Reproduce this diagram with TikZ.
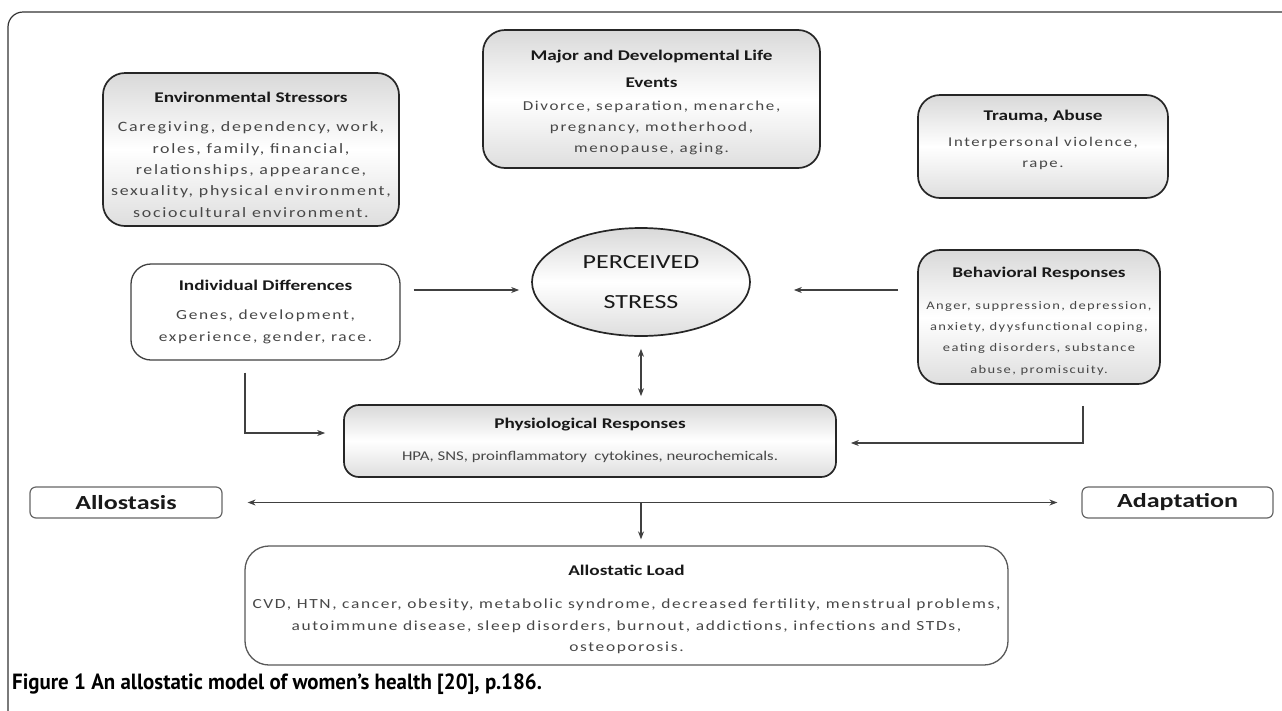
\documentclass[tikz,border=0pt]{standalone}
\usepackage{fontspec}
\usetikzlibrary{arrows.meta,shapes.geometric}
\setmainfont{Carlito}
\newfontfamily\hfont{Carlito}[FakeStretch=1.3]
\newfontfamily\bfontA{Carlito}[FakeStretch=1.25]
\newfontfamily\bfontB{Carlito}[FakeStretch=1.25,LetterSpace=12]
\newfontfamily\capfont{PT Sans}[FakeStretch=0.95]
\tikzset{
  sbox/.style={draw=black!85, line width=1.7pt, rounded corners=22pt, top color=gray!30, bottom color=gray!26, middle color=white, inner sep=0pt},
  wbox/.style={draw=black!75, line width=1.3pt, rounded corners=20pt, fill=white, inner sep=0pt},
  tbox/.style={draw=black!60, line width=1.2pt, rounded corners=6pt, fill=white, inner sep=0pt, font=\hfont\bfseries\fontsize{20}{24}\selectfont, text=black!90},
  headtxt/.style={font=\hfont\bfseries\fontsize{14.8}{27}\selectfont, text=black!90, align=center, inner sep=0pt},
  bodytxt/.style={font=\bfontB\fontsize{#1}{21.3}\selectfont, text=black!72, align=center, inner sep=0pt},
  bodytxt/.default=14,
  bodytxtn/.style={font=\bfontA\fontsize{13.4}{21.3}\selectfont, text=black!72, align=center, inner sep=0pt},
  arr/.style={draw=black!75, line width=1.2pt, -{Stealth[length=8pt,width=6pt]}},
  darr/.style={draw=black!75, line width=1.2pt, {Stealth[length=8pt,width=6pt]}-{Stealth[length=8pt,width=6pt]}},
}
\begin{document}
\begin{tikzpicture}[x=1pt,y=-1pt]
\useasboundingbox (0,0) rectangle (1282,710);
% outer frame
\draw[line width=1.2pt, black!80, rounded corners=15pt] (8,712) -- (8,12) -- (1284,12);

% boxes
\node[sbox, minimum width=296pt, minimum height=153pt] (env) at (251,149.5) {};
\node[headtxt] (envh) at (251,97) {Environmental Stressors};
\node[bodytxt=14.3] (envb) at (251,169.5) {Caregiving, dependency, work,\\roles, family, financial,\\relationships, appearance,\\sexuality, physical environment,\\sociocultural environment.};

\node[sbox, minimum width=337pt, minimum height=138pt] (major) at (651.5,99) {};
\node[headtxt] (majorh) at (651.5,68.5) {Major and Developmental Life\\Events};
\node[bodytxt=13.6] (majorb) at (651.5,128) {Divorce, separation, menarche,\\pregnancy, motherhood,\\menopause, aging.};

\node[sbox, minimum width=250pt, minimum height=103pt] (trauma) at (1043,146.5) {};
\node[headtxt] (traumah) at (1043,116) {Trauma, Abuse};
\node[bodytxt=13.4] (traumab) at (1043,153.5) {Interpersonal violence,\\rape.};

\node[wbox, minimum width=269pt, minimum height=96pt] (ind) at (265.5,312) {};
\node[headtxt] (indh) at (265.5,285) {Individual Differences};
\node[bodytxt=13.9] (indb) at (265.5,327) {Genes, development,\\experience, gender, race.};

\node[ellipse, draw=black!85, line width=1.7pt, top color=gray!30, bottom color=gray!26, middle color=white, minimum width=218pt, minimum height=108pt] (stress) at (641,282) {};
\node[font=\hfont\fontsize{20}{40}\selectfont, text=black!90, align=center, inner sep=0pt] (stresst) at (641,282) {PERCEIVED\\STRESS};

\node[sbox, minimum width=242pt, minimum height=134pt] (beh) at (1039,317) {};
\node[headtxt] (behh) at (1039,273) {Behavioral Responses};
\node[bodytxt=11.6] (behb) at (1039,338) {Anger, suppression, depression,\\anxiety, dyysfunctional coping,\\eating disorders, substance\\abuse, promiscuity.};

\node[sbox, rounded corners=15pt, minimum width=492pt, minimum height=72pt] (phys) at (590,441) {};
\node[headtxt] (physh) at (590,425) {Physiological Responses};
\node[bodytxtn] (physb) at (590,457) {HPA, SNS, proinflammatory\ \ cytokines, neurochemicals.};

\node[tbox, minimum width=192pt, minimum height=31pt] (allo) at (126,502.5) {Allostasis};
\node[tbox, minimum width=191pt, minimum height=31pt] (adap) at (1177.5,502.5) {Adaptation};

\node[wbox, draw=black!65, rounded corners=24pt, minimum width=763pt, minimum height=119pt] (load) at (626.5,605.5) {};
\node[headtxt] (loadh) at (626.5,570) {Allostatic Load};
\node[bodytxt=13.9] (loadb) at (626.5,626.5) {CVD, HTN, cancer, obesity, metabolic syndrome, decreased fertility, menstrual problems,\\autoimmune disease, sleep disorders, burnout, addictions, infections and STDs,\\osteoporosis.};

% caption
\node[anchor=west, inner sep=0pt, font=\capfont\bfseries\fontsize{22}{26}\selectfont] (cap) at (12,684) {Figure 1 An allostatic model of women’s health [20], p.186.};

% connectors
\draw[arr] ([shift={(13,-22)}]ind.east) -- ([shift={(-12,8)}]stress.west);
\draw[arr] ([shift={(-19,-27)}]beh.west) -- ([shift={(43,8)}]stress.east);
\draw[darr] ([yshift=-12pt]stress.south) -- ([yshift=8pt]stress.south |- phys.north);
\draw[arr] ([shift={(-20.5,12)}]ind.south) |- ([shift={(-18,-8)}]phys.west);
\draw[arr] ([shift={(44,21)}]beh.south) |- ([shift={(14,2)}]phys.east);
\draw[darr] ([xshift=25pt]allo.east) -- ([xshift=-24pt]adap.west);
\coordinate (mid) at (stress.south |- allo.east);
\draw[arr] (mid) -- ([yshift=6pt]mid |- load.north);
\end{tikzpicture}
\end{document}
